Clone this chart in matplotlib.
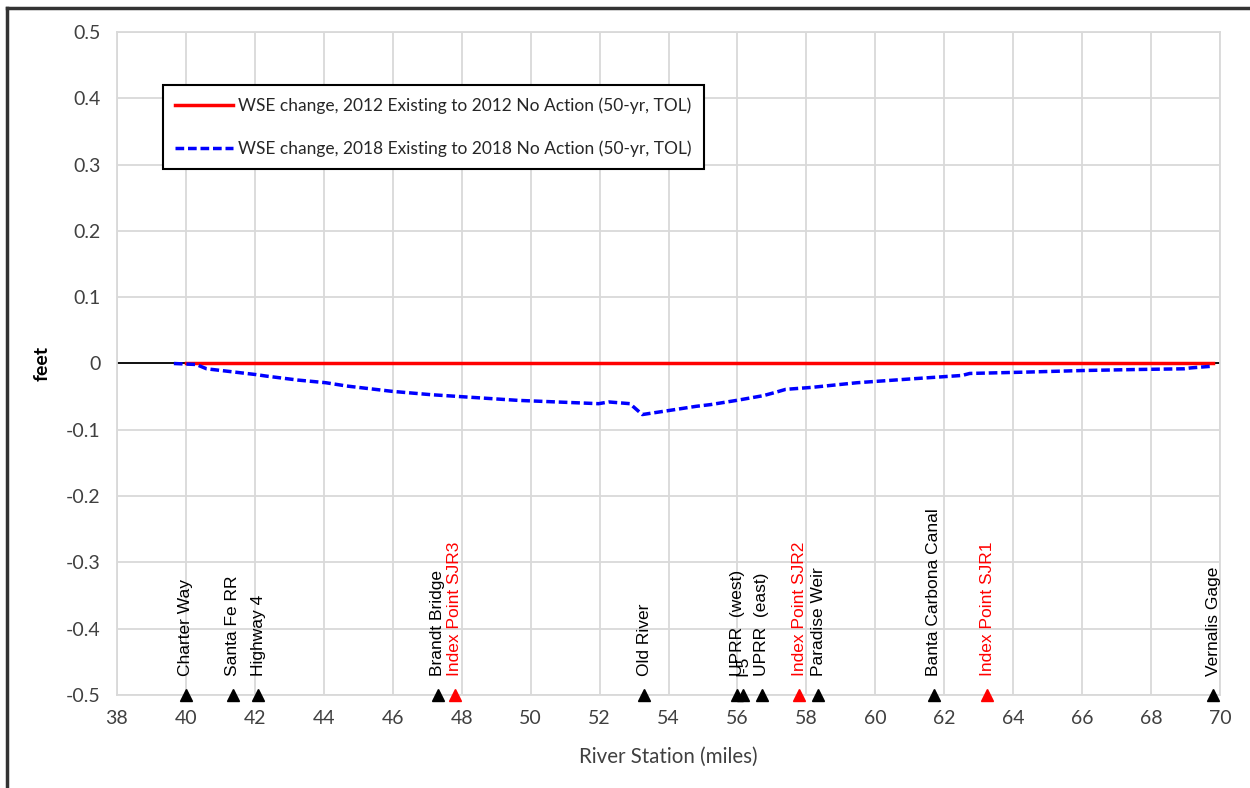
import matplotlib
matplotlib.use("Agg")
import matplotlib.pyplot as plt
from matplotlib.lines import Line2D

# ---- data ----
red_x = [40.0, 69.8]
red_y = [0.0, 0.0]

blue_x = [39.65, 40.3, 40.6, 42.03, 42.33, 43.25, 44.06, 44.67, 45.98, 47.1,
          49.63, 51.97, 52.27, 52.88, 53.24, 54.0, 54.8, 55.22, 55.98, 56.75,
          57.07, 57.4, 58.16, 59.47, 61.1, 62.52, 62.74, 64.37, 66.0, 67.64,
          68.95, 69.16, 69.8]
blue_y = [0.0, -0.0015, -0.008, -0.0167, -0.019, -0.025, -0.029, -0.034, -0.042, -0.047,
          -0.0556, -0.0606, -0.058, -0.0606, -0.077, -0.071, -0.0646, -0.062, -0.0556, -0.0485,
          -0.044, -0.039, -0.036, -0.029, -0.023, -0.018, -0.015, -0.013, -0.0106, -0.009,
          -0.008, -0.0066, -0.004]

station_names = ["Charter Way", "Santa Fe RR", "Highway 4", "Brandt Bridge",
                 "Index Point SJR3", "Old River", "UPRR  (west)", "I-5",
                 "UPRR  (east)", "Index Point SJR2", "Paradise Weir",
                 "Banta Carbona Canal", "Index Point SJR1", "Vernalis Gage"]
station_miles = [40.0, 41.36, 42.1, 47.3, 47.8, 53.3, 56.0, 56.15, 56.7,
                 57.8, 58.35, 61.7, 63.25, 69.8]
station_is_index = [False, False, False, False, True, False, False, False,
                    False, True, False, False, True, False]

legend_labels = ["WSE change, 2012 Existing to 2012 No Action (50-yr, TOL)",
                 "WSE change, 2018 Existing to 2018 No Action (50-yr, TOL)"]

x_ticks = list(range(38, 71, 2))
y_ticks = [0.5, 0.4, 0.3, 0.2, 0.1, 0, -0.1, -0.2, -0.3, -0.4, -0.5]
y_tick_labels = ["0.5", "0.4", "0.3", "0.2", "0.1", "0", "-0.1", "-0.2", "-0.3", "-0.4", "-0.5"]

# ---- figure ----
W, H = 1250, 788
fig = plt.figure(figsize=(W / 100, H / 100), dpi=100)
left, right, top, bottom = 117, 1220, 32, 695
ax = fig.add_axes([left / W, 1 - bottom / H, (right - left) / W, (bottom - top) / H])

tick_font = "Lato"
grid_color = "#d9d9d9"

ax.set_xlim(38, 70)
ax.set_ylim(-0.5, 0.5)
ax.set_xticks(x_ticks)
ax.set_yticks(y_ticks)
ax.set_yticklabels(y_tick_labels)
ax.grid(True, color=grid_color, linewidth=1.3)
ax.set_axisbelow(True)
for s in ax.spines.values():
    s.set_color(grid_color)
    s.set_linewidth(1.3)
ax.tick_params(length=0, pad=12, labelsize=14, colors="#404040")
for lab in ax.get_xticklabels() + ax.get_yticklabels():
    lab.set_fontfamily(tick_font)
ax.tick_params(axis="x", pad=11)

# zero axis line
ax.axhline(0, color="black", linewidth=1.3, zorder=2)

ax.plot(red_x, red_y, color="red", linewidth=2.5, zorder=3)
ax.plot(blue_x, blue_y, color="#0000ff", linewidth=2.5, linestyle=(0, (2.5, 1.1)), zorder=4)

# station markers and labels
for name, xm, idx in zip(station_names, station_miles, station_is_index):
    c = "red" if idx else "black"
    ax.plot([xm], [-0.5], marker="^", color=c, markersize=8, clip_on=False, zorder=5)
    ax.text(xm, -0.471, name, rotation=90, ha="center", va="bottom", color=c,
            fontsize=12.5, fontfamily="Liberation Sans", zorder=5)

ax.set_xlabel("River Station (miles)", fontsize=14.8, fontfamily=tick_font, color="#404040", labelpad=14)
ax.set_ylabel("feet", fontsize=14, fontfamily=tick_font, fontweight="bold", color="black", labelpad=11)

handles = [Line2D([0], [0], color="red", linewidth=2.5),
           Line2D([0], [0], color="#0000ff", linewidth=2.5, linestyle=(0, (2.5, 1.1)))]
leg = ax.legend(handles, legend_labels, loc="upper left", bbox_to_anchor=(0.042, 0.920),
                prop={"family": tick_font, "size": 12.5}, frameon=True, fancybox=False,
                edgecolor="black", framealpha=1, borderpad=0.7, labelspacing=1.55,
                handlelength=3.3, handletextpad=0.3, borderaxespad=0)
leg.get_frame().set_linewidth(1.5)
for t in leg.get_texts():
    t.set_color("#262626")

# partial outer frame (left and top edges)
fig.add_artist(Line2D([7 / W, 7 / W], [0, 1 - 8 / H], transform=fig.transFigure, color="#333333", linewidth=2.5))
fig.add_artist(Line2D([7 / W, 1], [1 - 8 / H, 1 - 8 / H], transform=fig.transFigure, color="#333333", linewidth=2.5))

fig.savefig("out.png", dpi=100)
